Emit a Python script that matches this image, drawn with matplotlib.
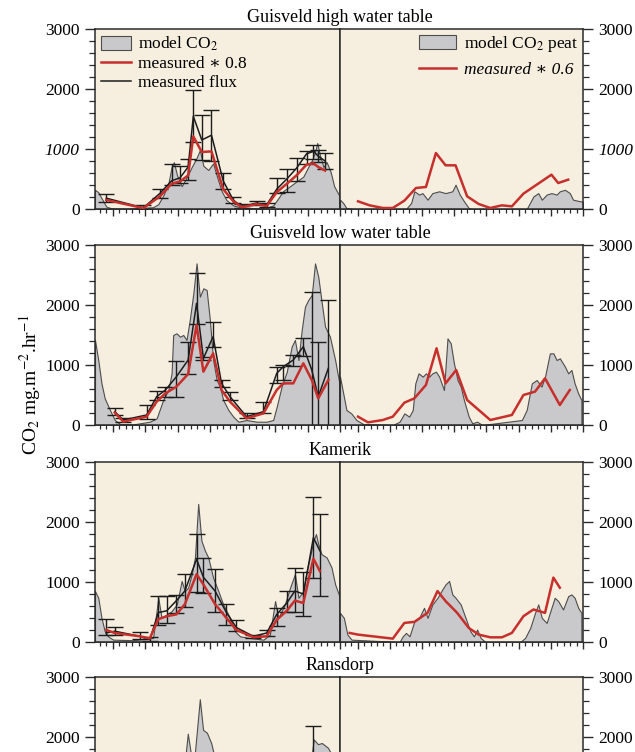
import numpy as np
import matplotlib
matplotlib.use("Agg")
import matplotlib.pyplot as plt
from matplotlib.patches import Patch
from matplotlib.lines import Line2D
from matplotlib.ticker import MultipleLocator

plt.rcParams["font.family"] = ["Liberation Serif", "DejaVu Serif"]
plt.rcParams["mathtext.fontset"] = "stix"

# x = day number within each half, y = CO2 flux (mg m-2 hr-1)
TITLES = ["Guisveld high water table", "Guisveld low water table", "Kamerik", "Ransdorp"]

# --- Guisveld high water table ---
gh_model_x = [-55, -45, -35, -20, -4, 42, 94, 124, 140, 155, 171, 181, 188, 198, 212, 225, 243, 258,
              268, 279, 294, 309, 322, 335, 350, 371, 397, 433, 474, 494, 510, 525, 546, 566, 587,
              602, 613, 623, 630, 638, 649, 659, 671, 682, 692, 700]
gh_model_y = [320, 280, 180, 40, 10, 5, 20, 30, 80, 220, 420, 700, 780, 560, 380, 500, 700, 850,
              980, 720, 650, 760, 520, 300, 150, 60, 25, 15, 20, 60, 180, 300, 380, 460, 540,
              700, 800, 950, 1100, 900, 700, 780, 620, 380, 280, 200]
gh_meas_x = [-20, 94, 145, 181, 207, 232, 248, 274, 304, 340, 371, 397, 443, 474, 505, 536, 566,
             597, 618, 633, 654]
gh_flux = [180, 20, 260, 470, 520, 700, 1545, 1150, 1230, 470, 150, 40, 100, 70, 330, 500, 680,
           920, 960, 880, 800]
gh_lo = [110, 0, 180, 400, 430, 480, 1110, 820, 800, 330, 100, 10, 60, 40, 260, 280, 460, 750,
         830, 780, 660]
gh_hi = [250, 60, 340, 750, 720, 830, 1980, 1570, 1650, 600, 200, 80, 140, 100, 510, 660, 850,
         960, 1060, 980, 930]
gh_red = [150, 15, 210, 420, 460, 560, 1210, 950, 960, 330, 130, 30, 80, 50, 280, 420, 560, 740,
          760, 700, 640]
gh_peat_x = [-55, -45, -35, -14, 150, 166, 176, 191, 201, 217, 232, 253, 273, 294, 304, 317, 330,
             345, 356, 525, 546, 561, 572, 587, 602, 618, 628, 644, 659, 669, 690, 700]
gh_peat_y = [155, 100, 15, 0, 0, 100, 295, 240, 265, 155, 265, 295, 265, 295, 405, 240, 130, 15, 0,
             0, 210, 265, 155, 240, 265, 240, 295, 320, 265, 155, 130, 120]
gh_red6_x = [1, 37, 78, 109, 145, 181, 212, 243, 273, 304, 340, 376, 412, 448, 479, 515, 602, 623, 654]
gh_red6_y = [128, 61, 17, 17, 139, 350, 367, 933, 728, 728, 211, 83, 17, 61, 44, 256, 572, 433, 489]

# --- Guisveld low water table ---
gl_model_x = [-55, -45, -35, -25, -9, 6, 22, 63, 114, 135, 155, 171, 181, 186, 196, 207, 217, 227,
              237, 248, 258, 268, 279, 289, 299, 309, 320, 330, 340, 356, 371, 387, 412, 443, 474,
              494, 505, 520, 536, 551, 561, 572, 582, 592, 602, 613, 623, 633, 644, 654, 669, 685, 700]
gl_model_y = [1417, 1083, 694, 444, 250, 83, 17, 10, 55, 111, 417, 583, 861, 1500, 1528, 1472, 1500,
              1417, 1750, 2194, 2694, 2139, 2278, 2250, 1750, 1083, 750, 639, 417, 250, 139, 55, 83,
              55, 55, 83, 306, 639, 889, 1306, 1417, 1083, 1583, 1972, 2083, 2167, 2694, 2472, 2028,
              1639, 1472, 1083, 639]
gl_meas_x = [6, 32, 104, 135, 162, 196, 232, 258, 279, 309, 335, 361, 412, 464, 505, 525, 556, 587,
             613, 633, 664]
gl_flux = [222, 83, 167, 472, 583, 806, 1083, 2028, 1111, 1472, 694, 472, 139, 222, 861, 972, 1083,
           1306, 917, 472, 944]
gl_lo = [170, 50, 94, 420, 460, 461, 850, 1683, 1080, 1306, 640, 417, 111, 194, 694, 750, 980, 1150,
         -200, -200, -200]
gl_hi = [280, 110, 333, 560, 640, 1072, 1389, 2528, 1139, 1722, 750, 556, 194, 389, 972, 1000, 1170,
         1450, 2222, 1389, 2083]
gl_red = [206, 56, 139, 389, 528, 639, 850, 1667, 889, 1194, 583, 389, 111, 194, 583, 694, 694, 1028,
          750, 444, 750]
gl_peat_x = [-55, -45, -35, -20, -4, 17, 109, 130, 145, 160, 171, 179, 189, 202, 212, 222, 232, 243,
             253, 268, 279, 289, 299, 310, 320, 330, 345, 356, 371, 387, 510, 525, 541, 556, 571,
             582, 597, 608, 618, 628, 644, 654, 664, 674, 685, 695]
gl_peat_y = [806, 528, 250, 194, 83, 17, 0, 55, 194, 139, 250, 694, 861, 806, 861, 806, 861, 889,
             806, 583, 1444, 1361, 1028, 750, 639, 417, 139, 28, 55, 0, 83, 250, 694, 750, 639, 806,
             1194, 1194, 1083, 1111, 972, 861, 917, 694, 528, 417]
gl_red6_x = [1, 32, 78, 109, 145, 176, 212, 245, 273, 306, 340, 412, 479, 515, 551, 582, 628, 659]
gl_red6_y = [139, 44, 83, 139, 372, 444, 667, 1278, 694, 917, 417, 83, 167, 500, 556, 778, 333, 583]

# --- Kamerik ---
ka_model_x = [-55, -45, -35, -25, -15, 1, 63, 124, 140, 150, 166, 181, 197, 212, 222, 232, 243, 253,
              263, 273, 284, 294, 309, 325, 340, 361, 376, 392, 422, 464, 484, 500, 510, 520, 530,
              546, 561, 572, 587, 597, 607, 618, 626, 633, 643, 659, 674, 685, 700]
ka_model_y = [849, 737, 402, 179, 95, 39, 30, 67, 737, 402, 458, 514, 626, 1017, 849, 905, 1129,
              1408, 2302, 1687, 1520, 1408, 1073, 849, 626, 402, 179, 95, 67, 39, 123, 682, 402, 514,
              626, 905, 1129, 737, 849, 1184, 1408, 1687, 1799, 1631, 1464, 1408, 1240, 961, 737]
ka_meas_x = [-20, 6, 83, 114, 140, 166, 196, 222, 258, 279, 315, 350, 381, 433, 474, 505, 536, 561,
             587, 618, 638]
ka_flux = [150, 180, 95, 40, 490, 520, 690, 850, 1380, 1080, 850, 490, 240, 95, 150, 460, 650, 850,
           800, 1740, 1520]
ka_lo = [120, 120, 50, 10, 290, 320, 490, 580, 830, 820, 500, 290, 190, 60, 100, 270, 500, 500, 440,
         1070, 760]
ka_hi = [390, 250, 160, 80, 760, 770, 780, 1130, 1800, 1400, 1220, 640, 370, 120, 200, 570, 850,
         1230, 1160, 2410, 2140]
ka_red = [200, 150, 95, 60, 380, 430, 460, 630, 1130, 960, 630, 400, 200, 80, 95, 370, 520, 690, 650,
          1390, 1180]
ka_peat_x = [-55, -43, -32, -19, 130, 140, 150, 161, 176, 191, 206, 217, 232, 248, 263, 273, 284,
             294, 304, 320, 335, 350, 361, 371, 382, 397, 505, 520, 536, 551, 561, 572, 587, 602,
             612, 623, 638, 654, 664, 674, 685, 695]
ka_peat_y = [486, 402, 123, 39, 0, 95, 151, 95, 346, 402, 570, 402, 626, 737, 877, 961, 1017, 793,
             737, 626, 402, 179, 95, 207, 67, 0, 0, 67, 235, 486, 626, 402, 318, 570, 737, 682,
             542, 765, 793, 737, 570, 486]
ka_red6_x = [-25, 1, 109, 145, 176, 217, 248, 273, 309, 345, 376, 412, 448, 479, 515, 546, 582, 608, 628]
ka_red6_y = [151, 123, 56, 318, 335, 486, 849, 682, 486, 235, 123, 78, 78, 151, 430, 542, 486, 1073, 905]

# --- Ransdorp (cut off at the bottom of the page) ---
ra_model_x = [190, 203, 222, 231, 241, 253, 268, 278, 290, 303, 321, 601, 613, 619, 632, 644, 663, 675, 690]
ra_model_y = [1000, 1200, 1600, 2055, 1700, 1750, 2630, 2120, 2070, 1900, 1500, 1500, 1700, 1960,
              1880, 1900, 1820, 1700, 1200]
ra_meas_x = [616]
ra_flux = [1500]
ra_lo = [900]
ra_hi = [2190]
ra_red = [1200]

left_sets = [
    (gh_model_x, gh_model_y, gh_meas_x, gh_flux, gh_lo, gh_hi, gh_red),
    (gl_model_x, gl_model_y, gl_meas_x, gl_flux, gl_lo, gl_hi, gl_red),
    (ka_model_x, ka_model_y, ka_meas_x, ka_flux, ka_lo, ka_hi, ka_red),
    (ra_model_x, ra_model_y, ra_meas_x, ra_flux, ra_lo, ra_hi, ra_red),
]
right_sets = [
    (gh_peat_x, gh_peat_y, gh_red6_x, gh_red6_y),
    (gl_peat_x, gl_peat_y, gl_red6_x, gl_red6_y),
    (ka_peat_x, ka_peat_y, ka_red6_x, ka_red6_y),
    None,
]

BG = "#f6efdf"
GRAY = "#c9c9cb"
EDGE = "#4d4d4d"
RED = "#c62f2c"
BLACK = "#1c1c1c"
SPINE = "#2a2a2a"

W, H = 635, 752
fig = plt.figure(figsize=(W / 100, H / 100), dpi=100, facecolor="white")

tops = [29, 245, 462, 677]
ph = 180


def style(ax, side, italic_1000=False, cut=False):
    ax.set_facecolor(BG)
    ax.set_xlim(-55, 700)
    ax.set_ylim(0, 3000)
    ax.xaxis.set_major_locator(MultipleLocator(100))
    ax.xaxis.set_minor_locator(MultipleLocator(20))
    # the last panel runs off the page: only its upper labels are visible
    labels = ["", "", "2000", "3000"] if cut else ["0", "1000", "2000", "3000"]
    ax.set_yticks([0, 1000, 2000, 3000], labels=labels)
    ax.yaxis.set_minor_locator(MultipleLocator(200))
    for s in ax.spines.values():
        s.set_color(SPINE)
        s.set_linewidth(1.1)
    ax.tick_params(axis="x", which="major", direction="out", length=5, width=1, color=SPINE,
                   labelbottom=False)
    ax.tick_params(axis="x", which="minor", direction="out", length=3, width=0.9, color=SPINE)
    if side == "left":
        ax.tick_params(axis="y", which="both", left=True, right=False, labelleft=True,
                       labelright=False, direction="out", color=SPINE)
    else:
        ax.yaxis.tick_right()
        ax.tick_params(axis="y", which="both", left=False, right=True, labelleft=False,
                       labelright=True, direction="out", color=SPINE)
    ax.tick_params(axis="y", which="major", length=7, width=1, labelsize=12.5, pad=4)
    ax.tick_params(axis="y", which="minor", length=4, width=0.9)
    for lbl in ax.get_yticklabels():
        if italic_1000 and lbl.get_text() == "1000":
            lbl.set_fontstyle("italic")


for i in range(4):
    top = tops[i]
    b = 1 - (top + ph) / H
    h = ph / H
    axl = fig.add_axes([95 / W, b, 245 / W, h])
    axr = fig.add_axes([340 / W, b, 243 / W, h])
    style(axl, "left", italic_1000=(i == 0), cut=(i == 3))
    style(axr, "right", italic_1000=(i == 0), cut=(i == 3))

    mx, my, d, flux, lo, hi, red = left_sets[i]
    f = np.array(flux, dtype=float)
    axl.fill_between(mx, my, 0, facecolor=GRAY, edgecolor=EDGE, lw=0.8, zorder=1)
    axl.errorbar(d, f, yerr=[f - np.array(lo), np.array(hi) - f], fmt="none", ecolor=BLACK,
                 elinewidth=1, capsize=5.5, capthick=1, zorder=2)
    axl.plot(d, f, color=BLACK, lw=1.1, zorder=3)
    axl.plot(d, red, color=RED, lw=1.8, zorder=4)

    if right_sets[i] is not None:
        px, py, rx, ry = right_sets[i]
        axr.fill_between(px, py, 0, facecolor=GRAY, edgecolor=EDGE, lw=0.8, zorder=1)
        axr.plot(rx, ry, color=RED, lw=1.8, zorder=4)

    fig.text(340 / W, 1 - (top - 12) / H, TITLES[i], ha="center", va="center", fontsize=13)

    if i == 0:
        h1 = [Patch(facecolor=GRAY, edgecolor=EDGE, lw=0.8),
              Line2D([], [], color=RED, lw=1.8),
              Line2D([], [], color=BLACK, lw=1.1)]
        axl.legend(h1, ["model CO$_2$", "measured \u2217 0.8", "measured flux"],
                   loc="upper left", frameon=False, fontsize=12.5, handlelength=1.7,
                   handleheight=0.8, handletextpad=0.45, labelspacing=0.12,
                   borderaxespad=0.15, borderpad=0.2)
        h2 = [Patch(facecolor=GRAY, edgecolor=EDGE, lw=0.8),
              Line2D([], [], color=RED, lw=1.8)]
        leg2 = axr.legend(h2, ["model CO$_2$ peat", "measured \u2217 0.6"],
                          loc="upper right", frameon=False, fontsize=12.5, handlelength=2.1,
                          handleheight=0.85, handletextpad=0.45, labelspacing=0.4,
                          borderaxespad=0.1, borderpad=0.2)
        leg2.get_texts()[1].set_fontstyle("italic")

fig.text(30 / W, 1 - 385 / H, "CO$_2$ mg.m$^{-2}$.hr$^{-1}$", rotation=90, ha="center",
         va="center", fontsize=14)

fig.savefig("out.png", dpi=100, facecolor="white")
